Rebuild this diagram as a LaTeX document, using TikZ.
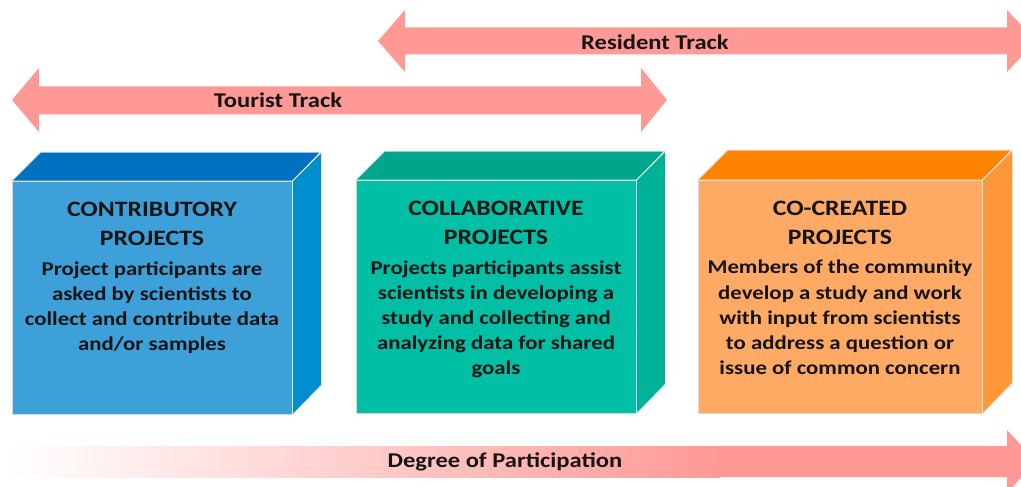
\documentclass[tikz,border=0pt]{standalone}
\usepackage{fontspec}
\setmainfont{Carlito}[FakeStretch=1.17]
\begin{document}
\begin{tikzpicture}[x=1pt,y=-1pt,
  trackpink/.style={fill=arrowpink},
  tracklabel/.style={font=\fontsize{21}{24}\selectfont\bfseries, text=ink, inner sep=0pt},
  frontface/.style={draw=white!70!gray, line width=0.8pt, minimum width=280pt, minimum height=233pt, inner sep=0pt},
  edgeline/.style={draw=white!80!gray, line width=0.8pt, line join=round},
  headtext/.style={font=\fontsize{22}{29}\selectfont\bfseries, text=ink, align=center, inner sep=0pt, anchor=north},
  bodytext/.style={font=\fontsize{19.5}{25.2}\selectfont\bfseries, text=ink, align=center, inner sep=0pt, anchor=north}]
\definecolor{arrowpink}{RGB}{255,153,150}
\definecolor{ink}{RGB}{20,20,20}
\definecolor{blueF}{RGB}{62,160,216}
\definecolor{blueT}{RGB}{0,112,192}
\definecolor{blueS}{RGB}{0,142,206}
\definecolor{tealF}{RGB}{0,191,165}
\definecolor{tealT}{RGB}{0,166,140}
\definecolor{tealS}{RGB}{0,179,152}
\definecolor{oranF}{RGB}{255,170,100}
\definecolor{oranT}{RGB}{255,131,0}
\definecolor{oranS}{RGB}{255,150,55}

\useasboundingbox (0,0) rectangle (1021,487);
\clip (0,0) rectangle (1021,487);

% Resident track (double-headed)
\fill[trackpink] (378,41) -- (405,10) -- (405,27.5) -- (1007,27.5) -- (1007,10)
  -- (1036,41) -- (1007,72) -- (1007,54.5) -- (405,54.5) -- (405,72) -- cycle;
\node[tracklabel] (resident) at (655,42) {Resident Track};

% Tourist track (double-headed)
\fill[trackpink] (12,100) -- (39,68) -- (39,86.5) -- (641,86.5) -- (641,68)
  -- (667,100) -- (641,132) -- (641,114.5) -- (39,114.5) -- (39,132) -- cycle;
\node[tracklabel] (tourist) at (278,100) {Tourist Track};

% Degree of participation: fades in from the left
\shade[left color=white, right color=arrowpink] (8,446) rectangle (720,477);
\fill[trackpink] (719,446) -- (1007,446) -- (1007,430) -- (1036,461.5)
  -- (1007,493) -- (1007,477) -- (719,477) -- cycle;
\node[tracklabel] (degree) at (505,462) {Degree of Participation};

% Box 1: contributory
\node[frontface, fill=blueF] (b1) at (152,298) {};
\fill[blueT, edgeline] (b1.north west) -- ++(29,-29) -- ++(280,0) -- (b1.north east) -- cycle;
\fill[blueS, edgeline] (b1.north east) -- ++(29,-29) -- ++(0,233) -- (b1.south east) -- cycle;
\node[headtext] (h1) at ([yshift=-21]b1.north) {CONTRIBUTORY\\PROJECTS};
\node[bodytext] (d1) at ([yshift=-80]b1.north) {Project participants are\\asked by scientists to\\collect and contribute data\\and/or samples};

% Box 2: collaborative
\node[frontface, fill=tealF] (b2) at (496,297) {};
\fill[tealT, edgeline] (b2.north west) -- ++(29,-29) -- ++(280,0) -- (b2.north east) -- cycle;
\fill[tealS, edgeline] (b2.north east) -- ++(29,-29) -- ++(0,233) -- (b2.south east) -- cycle;
\node[headtext] (h2) at ([yshift=-21]b2.north) {COLLABORATIVE\\PROJECTS};
\node[bodytext] (d2) at ([yshift=-80]b2.north) {Projects participants assist\\scientists in developing a\\study and collecting and\\analyzing data for shared\\goals};

% Box 3: co-created
\node[frontface, fill=oranF, minimum width=284pt] (b3) at (840,297) {};
\fill[oranT, edgeline] (b3.north west) -- ++(30,-30) -- ++(284,0) -- (b3.north east) -- cycle;
\fill[oranS, edgeline] (b3.north east) -- ++(30,-30) -- ++(0,233) -- (b3.south east) -- cycle;
\node[headtext] (h3) at ([yshift=-21]b3.north) {CO-CREATED\\PROJECTS};
\node[bodytext] (d3) at ([yshift=-80]b3.north) {Members of the community\\develop a study and work\\with input from scientists\\to address a question or\\issue of common concern};
\end{tikzpicture}
\end{document}
